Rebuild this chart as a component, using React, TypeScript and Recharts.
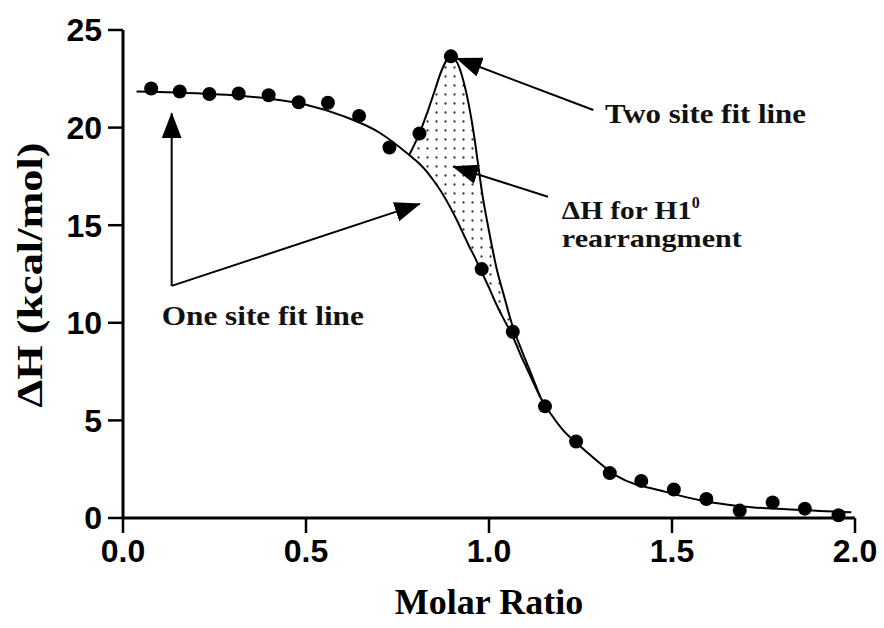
import {
  ComposedChart,
  XAxis,
  YAxis,
  Line,
  Area,
  Scatter,
  ReferenceLine,
  ReferenceDot,
  Label,
} from "recharts";

// Injection heats (molar ratio vs ΔH, kcal/mol)
const pointX = [
  0.077, 0.155, 0.236, 0.316, 0.398, 0.48, 0.56, 0.645, 0.728, 0.81, 0.896, 0.98,
  1.065, 1.153, 1.238, 1.33, 1.416, 1.505, 1.594, 1.685, 1.775, 1.863, 1.955,
];
const pointY = [
  22.0, 21.85, 21.72, 21.75, 21.66, 21.3, 21.27, 20.6, 18.98, 19.7, 23.65, 12.75,
  9.54, 5.72, 3.92, 2.3, 1.9, 1.46, 0.97, 0.38, 0.8, 0.48, 0.14,
];

// One site fit curve
const oneSiteX = [
  0.037, 0.1, 0.2, 0.3, 0.4, 0.5, 0.6, 0.7, 0.782, 0.81, 0.83, 0.85, 0.87, 0.896,
  0.915, 0.93, 0.945, 0.96, 0.97, 0.98, 1.0, 1.02, 1.04, 1.065, 1.09, 1.115, 1.14,
  1.17, 1.2, 1.26, 1.35, 1.48, 1.59, 1.68, 1.84, 1.99,
];
const oneSiteY = [
  21.85, 21.83, 21.76, 21.66, 21.48, 21.17, 20.6, 19.75, 18.6, 18.15, 17.75, 17.25,
  16.7, 15.85, 15.15, 14.55, 13.95, 13.4, 13.0, 12.6, 11.8, 10.95, 10.2, 9.3, 8.2,
  7.2, 6.2, 5.3, 4.55, 3.5, 2.15, 1.35, 0.86, 0.62, 0.42, 0.29,
];

// Two site fit curve, where it leaves the one site curve
const twoSiteX = [
  0.782, 0.81, 0.83, 0.85, 0.87, 0.896, 0.915, 0.93, 0.945, 0.96, 0.97, 0.98, 1.0,
  1.02, 1.04, 1.065, 1.09, 1.115, 1.14,
];
const twoSiteY = [
  18.6, 19.7, 20.7, 21.8, 22.9, 23.7, 23.25, 22.4, 21.15, 19.5, 18.15, 16.8, 14.7,
  12.85, 11.45, 9.8, 8.55, 7.4, 6.2,
];

const xTicks = [0, 0.5, 1, 1.5, 2];
const yTicks = [0, 5, 10, 15, 20, 25];

const points = pointX.map((x, i) => ({ x, y: pointY[i] }));
const oneSite = oneSiteX.map((x, i) => ({ x, y: oneSiteY[i] }));
const twoSite = twoSiteX.map((x, i) => ({ x, y: twoSiteY[i] }));
// dotted band between the two fits
const band = twoSiteX.map((x, i) => ({
  x,
  range: [oneSiteY[oneSiteX.indexOf(x)], twoSiteY[i]],
}));

const arrows = [
  { from: { x: 1.285, y: 20.9 }, to: { x: 0.912, y: 23.55 } },
  { from: { x: 1.161, y: 16.46 }, to: { x: 0.902, y: 18.0 } },
  { from: { x: 0.133, y: 11.89 }, to: { x: 0.133, y: 20.73 } },
  { from: { x: 0.133, y: 11.89 }, to: { x: 0.811, y: 16.09 } },
];

const notes = [
  { x: 1.317, y: 20.25, text: "Two site fit line", len: 201 },
  { x: 0.106, y: 9.89, text: "One site fit line", len: 202 },
];
const heatNote = { x: 1.199, y: 15.3, text: "ΔH for H1", sup: "0", second: "rearrangment" };

const serif = "'Liberation Serif', 'Times New Roman', serif";
const sans = "'Liberation Sans', Arial, sans-serif";

const tickStyle = { fontFamily: sans, fontWeight: 700, fontSize: 32, fill: "#000" };

export default function App() {
  return (
    <div style={{ position: "absolute", left: 0, top: 0, width: 884, height: 628, background: "#fff" }}>
      <ComposedChart width={884} height={628} margin={{ top: 30, right: 29, left: 0, bottom: 0 }}>
        <defs>
          <pattern id="dots" width="9" height="9" patternUnits="userSpaceOnUse">
            <circle cx="4.5" cy="4.5" r="1.15" fill="#333" />
          </pattern>
          <marker
            id="arrowHead"
            viewBox="0 0 26 20"
            refX="25"
            refY="10"
            markerWidth="26"
            markerHeight="20"
            markerUnits="userSpaceOnUse"
            orient="auto"
          >
            <path d="M0,0 L26,10 L0,20 Z" fill="#000" />
          </marker>
        </defs>
        <XAxis
          dataKey="x"
          type="number"
          domain={[0, 2]}
          ticks={xTicks}
          tickFormatter={(v: number) => v.toFixed(1)}
          height={110}
          tickSize={15}
          tickMargin={6}
          axisLine={{ stroke: "#000", strokeWidth: 3 }}
          tickLine={{ stroke: "#000", strokeWidth: 2.5 }}
          tick={tickStyle}
          interval={0}
        >
          <Label
            content={() => (
              <text x={489} y={614} textAnchor="middle" fontFamily={serif} fontWeight={700} fontSize={36} fill="#000">
                Molar Ratio
              </text>
            )}
          />
        </XAxis>
        <YAxis
          type="number"
          domain={[0, 25]}
          ticks={yTicks}
          width={123}
          tickSize={15}
          tickMargin={6}
          axisLine={{ stroke: "#000", strokeWidth: 3 }}
          tickLine={{ stroke: "#000", strokeWidth: 2.5 }}
          tick={tickStyle}
          interval={0}
        >
          <Label
            content={() => (
              <text
                x={30}
                y={275}
                transform="rotate(-90, 30, 275)"
                textAnchor="middle"
                dominantBaseline="central"
                fontFamily={serif}
                fontWeight={700}
                fontSize={36}
                textLength={265}
                lengthAdjust="spacingAndGlyphs"
                fill="#000"
              >
                ΔH (kcal/mol)
              </text>
            )}
          />
        </YAxis>

        <Area
          data={band}
          dataKey="range"
          type="monotone"
          stroke="none"
          fill="url(#dots)"
          fillOpacity={1}
          isAnimationActive={false}
        />
        <Line
          data={oneSite}
          dataKey="y"
          type="monotone"
          stroke="#000"
          strokeWidth={2}
          dot={false}
          isAnimationActive={false}
        />
        <Line
          data={twoSite}
          dataKey="y"
          type="monotone"
          stroke="#000"
          strokeWidth={2}
          dot={false}
          isAnimationActive={false}
        />
        <Scatter
          data={points}
          dataKey="y"
          fill="#000"
          isAnimationActive={false}
          shape={(p: any) => <circle cx={p.cx} cy={p.cy} r={7} fill="#000" />}
        />

        {arrows.map((a, i) => (
          <ReferenceLine
            key={`arrow-${i}`}
            segment={[a.from, a.to]}
            ifOverflow="visible"
            shape={(p: any) => (
              <line
                x1={p.x1}
                y1={p.y1}
                x2={p.x2}
                y2={p.y2}
                stroke="#000"
                strokeWidth={2}
                markerEnd="url(#arrowHead)"
              />
            )}
          />
        ))}
        {notes.map((n) => (
          <ReferenceDot
            key={n.text}
            x={n.x}
            y={n.y}
            r={0}
            ifOverflow="visible"
            shape={(p: any) => (
              <text
                x={p.cx}
                y={p.cy}
                fontFamily={serif}
                fontWeight={700}
                fontSize={27}
                textLength={n.len}
                lengthAdjust="spacingAndGlyphs"
                fill="#111"
              >
                {n.text}
              </text>
            )}
          />
        ))}
        {/* two-line note with superscript */}
        <ReferenceDot
          x={heatNote.x}
          y={heatNote.y}
          r={0}
          ifOverflow="visible"
          shape={(p: any) => (
            <text x={p.cx} y={p.cy} fontFamily={serif} fontWeight={700} fontSize={25} fill="#111">
              <tspan textLength={130} lengthAdjust="spacingAndGlyphs">
                {heatNote.text}
              </tspan>
              <tspan dy={-11} fontSize={16}>
                {heatNote.sup}
              </tspan>
              <tspan x={p.cx} dy={39} textLength={180} lengthAdjust="spacingAndGlyphs">
                {heatNote.second}
              </tspan>
            </text>
          )}
        />
      </ComposedChart>
    </div>
  );
}
